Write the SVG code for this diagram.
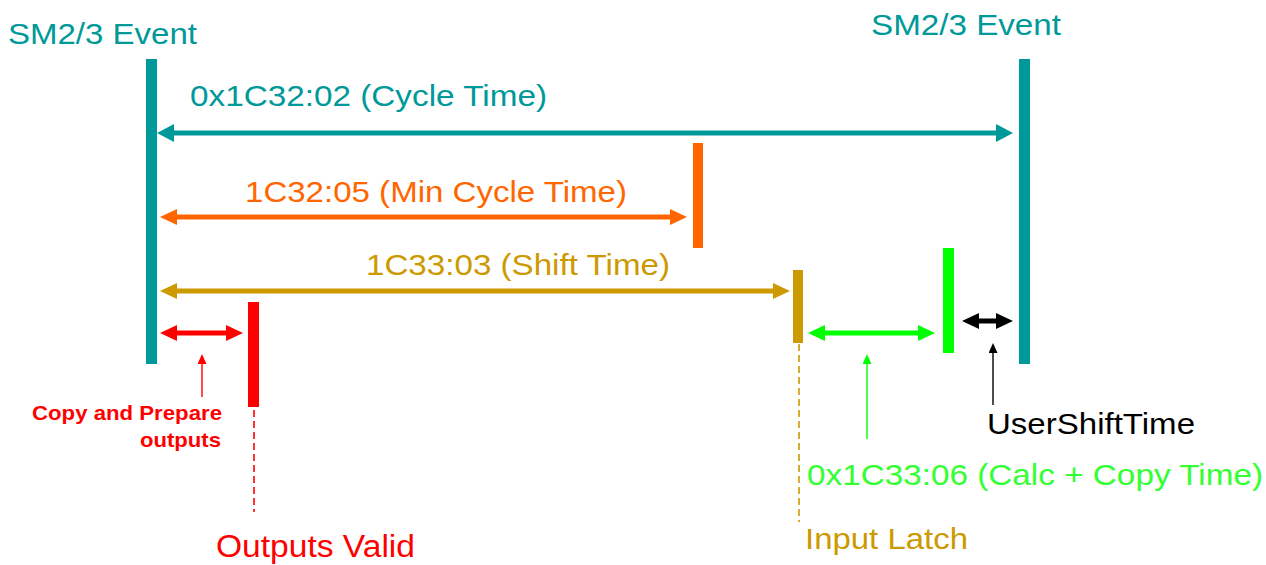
<svg xmlns="http://www.w3.org/2000/svg" width="1266" height="565" viewBox="0 0 1266 565">
<style>
text{font-family:"Liberation Sans",Arial,sans-serif;font-size:30px}
.teal{fill:#009999}.orange{fill:#FF6600}.gold{fill:#CC9900}.red{fill:#FF0000}.green{fill:#33FF33}.black{fill:#000}
.thick{stroke-width:5;fill:none}
.thin{stroke-width:1.4;fill:none}
.dash{stroke-width:1.6;stroke-dasharray:7,4;fill:none}
</style>
<defs>
<marker id="hTeal" markerUnits="userSpaceOnUse" markerWidth="18" markerHeight="18" refX="2" refY="9" orient="auto-start-reverse" viewBox="0 0 18 18"><path d="M0,0 L17,9 L0,18 Z" fill="#009999"/></marker>
<marker id="hOrange" markerUnits="userSpaceOnUse" markerWidth="18" markerHeight="16" refX="2" refY="8" orient="auto-start-reverse" viewBox="0 0 18 16"><path d="M0,0 L17,8 L0,16 Z" fill="#FF6600"/></marker>
<marker id="hGold" markerUnits="userSpaceOnUse" markerWidth="18" markerHeight="16" refX="2" refY="8" orient="auto-start-reverse" viewBox="0 0 18 16"><path d="M0,0 L17,8 L0,16 Z" fill="#CC9900"/></marker>
<marker id="hRed" markerUnits="userSpaceOnUse" markerWidth="18" markerHeight="16" refX="2" refY="8" orient="auto-start-reverse" viewBox="0 0 18 16"><path d="M0,0 L17,8 L0,16 Z" fill="#FF0000"/></marker>
<marker id="hGreen" markerUnits="userSpaceOnUse" markerWidth="18" markerHeight="16" refX="2" refY="8" orient="auto-start-reverse" viewBox="0 0 18 16"><path d="M0,0 L17,8 L0,16 Z" fill="#00FF00"/></marker>
<marker id="hBlack" markerUnits="userSpaceOnUse" markerWidth="18" markerHeight="16" refX="2" refY="8" orient="auto-start-reverse" viewBox="0 0 18 16"><path d="M0,0 L17,8 L0,16 Z" fill="#000"/></marker>
<marker id="tRed" markerUnits="userSpaceOnUse" markerWidth="11" markerHeight="9" refX="1" refY="4.5" orient="auto" viewBox="0 0 11 9"><path d="M0,0 L10,4.5 L0,9 Z" fill="#FF0000"/></marker>
<marker id="tGreen" markerUnits="userSpaceOnUse" markerWidth="11" markerHeight="9" refX="1" refY="4.5" orient="auto" viewBox="0 0 11 9"><path d="M0,0 L10,4.5 L0,9 Z" fill="#00FF00"/></marker>
<marker id="tBlack" markerUnits="userSpaceOnUse" markerWidth="11" markerHeight="9" refX="1" refY="4.5" orient="auto" viewBox="0 0 11 9"><path d="M0,0 L10,4.5 L0,9 Z" fill="#000"/></marker>
</defs>
<rect width="1266" height="565" fill="#fff"/>

<g id="sm-event-left">
<rect x="146" y="59" width="11" height="305" class="teal"/>
<text x="8" y="44" class="teal" textLength="189" lengthAdjust="spacingAndGlyphs">SM2/3 Event</text>
</g>
<g id="sm-event-right">
<rect x="1019" y="59" width="11" height="305" class="teal"/>
<text x="871" y="35" class="teal" textLength="190" lengthAdjust="spacingAndGlyphs">SM2/3 Event</text>
</g>
<g id="min-cycle-marker">
<rect x="693" y="143" width="10" height="105" class="orange"/>
</g>
<g id="input-latch">
<rect x="793" y="270" width="10" height="73" class="gold"/>
<text x="805" y="549" class="gold" textLength="163" lengthAdjust="spacingAndGlyphs">Input Latch</text>
</g>
<g id="calc-copy-end">
<rect x="943" y="248" width="11" height="105" fill="#00FF00"/>
</g>
<g id="outputs-valid">
<rect x="248" y="302" width="11" height="105" class="red"/>
<text x="216" y="557" class="red" style="font-size:31px" textLength="199" lengthAdjust="spacingAndGlyphs">Outputs Valid</text>
</g>

<g id="connectors">
<line x1="172" y1="133" x2="998" y2="133" stroke="#009999" class="thick" marker-start="url(#hTeal)" marker-end="url(#hTeal)"/>
<line x1="175" y1="217" x2="672" y2="217" stroke="#FF6600" class="thick" marker-start="url(#hOrange)" marker-end="url(#hOrange)"/>
<line x1="175" y1="291" x2="775" y2="291" stroke="#CC9900" class="thick" marker-start="url(#hGold)" marker-end="url(#hGold)"/>
<line x1="175" y1="333" x2="228" y2="333" stroke="#FF0000" class="thick" marker-start="url(#hRed)" marker-end="url(#hRed)"/>
<line x1="823" y1="333" x2="920" y2="333" stroke="#00FF00" class="thick" marker-start="url(#hGreen)" marker-end="url(#hGreen)"/>
<line x1="977" y1="321" x2="998" y2="321" stroke="#000" class="thick" marker-start="url(#hBlack)" marker-end="url(#hBlack)"/>
<line x1="202" y1="397" x2="202" y2="363" stroke="#FF0000" class="thin" marker-end="url(#tRed)"/>
<line x1="867" y1="439" x2="867" y2="363" stroke="#00FF00" class="thin" marker-end="url(#tGreen)"/>
<line x1="993" y1="405" x2="993" y2="352" stroke="#000" class="thin" marker-end="url(#tBlack)"/>
<line x1="254" y1="410" x2="254" y2="512" stroke="#FF0000" class="dash"/>
<line x1="799" y1="344" x2="799" y2="522" stroke="#CC9900" class="dash"/>
</g>

<g id="labels">
<text x="190" y="106" class="teal" textLength="357" lengthAdjust="spacingAndGlyphs">0x1C32:02 (Cycle Time)</text>
<text x="245" y="202" class="orange" textLength="382" lengthAdjust="spacingAndGlyphs">1C32:05 (Min Cycle Time)</text>
<text x="366" y="275" class="gold" textLength="304" lengthAdjust="spacingAndGlyphs">1C33:03 (Shift Time)</text>
<text x="222" y="420" class="red" style="font-size:21px;font-weight:bold" text-anchor="end" textLength="190" lengthAdjust="spacingAndGlyphs">Copy and Prepare</text>
<text x="221" y="447" class="red" style="font-size:21px;font-weight:bold" text-anchor="end" textLength="81" lengthAdjust="spacingAndGlyphs">outputs</text>
<text x="807" y="485" class="green" textLength="456" lengthAdjust="spacingAndGlyphs">0x1C33:06 (Calc + Copy Time)</text>
<text x="987" y="434" class="black" textLength="208" lengthAdjust="spacingAndGlyphs">UserShiftTime</text>
</g>
</svg>
